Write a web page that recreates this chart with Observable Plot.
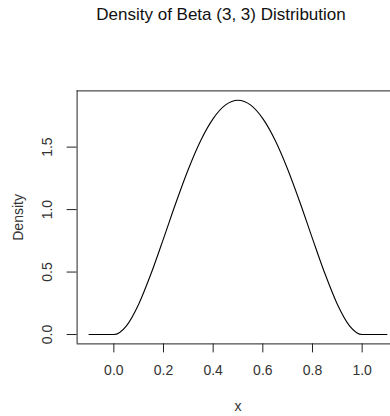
<!DOCTYPE html>
<html>
<head>
<meta charset="utf-8">
<script src="https://cdn.jsdelivr.net/npm/d3@7"></script>
<script src="https://cdn.jsdelivr.net/npm/@observablehq/plot@0.6"></script>
<style>
  html, body { margin: 0; padding: 0; background: #fff; }
  body { width: 390px; height: 416px; overflow: hidden; font-family: "Liberation Sans", Arial, sans-serif; }
  #title { height: 30px; line-height: 30px; font-size: 17px; color: #111; text-align: center; padding-left: 52px; box-sizing: border-box; width: 390px; white-space: nowrap; }
  svg { display: block; }
</style>
</head>
<body>
<div id="title">Density of Beta (3, 3) Distribution</div>
<div id="chart"></div>
<script>
// Values
const xValues = [-0.1, 0, 0.05, 0.1, 0.15, 0.2, 0.25, 0.3, 0.35, 0.4, 0.45, 0.5, 0.55, 0.6, 0.65, 0.7, 0.75, 0.8, 0.85, 0.9, 0.95, 1.0, 1.1];
const densityValues = [0, 0, 0.068, 0.243, 0.488, 0.768, 1.055, 1.323, 1.553, 1.728, 1.838, 1.875, 1.838, 1.728, 1.553, 1.323, 1.055, 0.768, 0.488, 0.243, 0.068, 0, 0];
const xTicks = [0, 0.2, 0.4, 0.6, 0.8, 1.0];
const yTicks = [0, 0.5, 1.0, 1.5];
const xLabel = "x";
const yLabel = "Density";

const data = xValues.map((x, i) => ({x, y: densityValues[i]}));
const fmt = d3.format(".1f");
const xDomain = [-0.148, 1.1142];
const yDomain = [-0.075, 1.95];
const ink = "#222";
const textInk = "#333";

const width = 390, height = 386;
const mL = 76.6, mR = 0, mT = 60.4, mB = 72.6;
// convert pixel tick lengths to data units
const pxPerX = (width - mL - mR) / (xDomain[1] - xDomain[0]);
const pxPerY = (height - mT - mB) / (yDomain[1] - yDomain[0]);
const xTickEnd = yDomain[0] - 9 / pxPerY;
const yTickEnd = xDomain[0] - 10 / pxPerX;

const txt = {fill: textInk, fontSize: 14, textAnchor: "middle", lineAnchor: "middle"};

const chart = Plot.plot({
  width, height,
  marginLeft: mL, marginRight: mR, marginTop: mT, marginBottom: mB,
  style: {fontFamily: "Liberation Sans, Arial, sans-serif", fontSize: "14px", background: "#fff", overflow: "visible"},
  x: {domain: xDomain, axis: null},
  y: {domain: yDomain, axis: null},
  marks: [
    // box: left, top, bottom (right edge lies beyond the picture)
    Plot.ruleX([xDomain[0]], {y1: yDomain[0], y2: yDomain[1], stroke: ink, strokeWidth: 1}),
    Plot.ruleY([yDomain[0], yDomain[1]], {x1: xDomain[0], x2: xDomain[1], stroke: ink, strokeWidth: 1}),
    Plot.ruleX(xTicks, {y1: yDomain[0], y2: xTickEnd, stroke: ink, strokeWidth: 1}),
    Plot.ruleY(yTicks, {x1: xDomain[0], x2: yTickEnd, stroke: ink, strokeWidth: 1}),
    Plot.text(xTicks, {x: d => d, text: d => fmt(d), frameAnchor: "bottom", dy: 26.6, ...txt}),
    Plot.text(yTicks, {y: d => d, text: d => fmt(d), frameAnchor: "left", dx: -29.6, rotate: -90, ...txt}),
    Plot.text([xLabel], {x: 0.5, text: d => d, frameAnchor: "bottom", dy: 62.6, ...txt}),
    Plot.text([yLabel], {y: (yDomain[0] + yDomain[1]) / 2, text: d => d, frameAnchor: "left", dx: -58.6, rotate: -90, ...txt}),
    Plot.line(data, {x: "x", y: "y", curve: "monotone-x", stroke: "#000", strokeWidth: 1.1})
  ]
});
document.getElementById("chart").appendChild(chart);
</script>
</body>
</html>
